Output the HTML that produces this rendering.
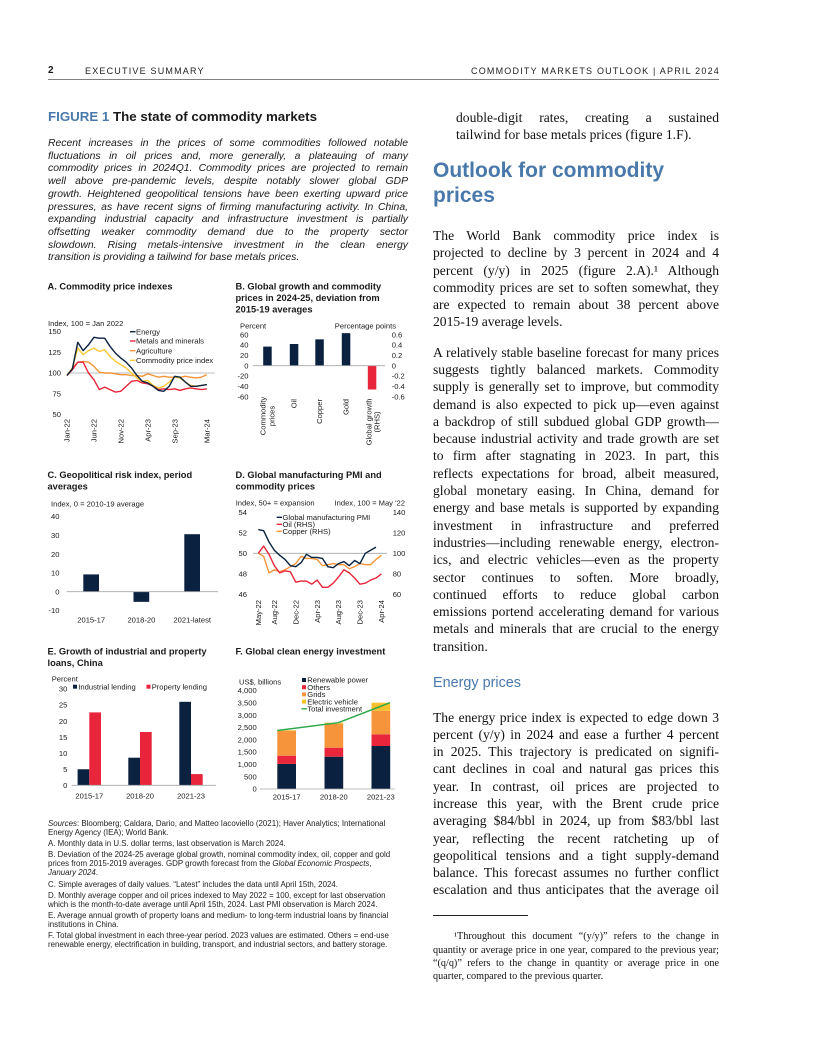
<!DOCTYPE html>
<html><head><meta charset="utf-8">
<style>
*{margin:0;padding:0;box-sizing:border-box}
html,body{width:816px;height:1056px;background:#fff;overflow:hidden}
body{position:relative;font-family:"Liberation Sans",Arial,sans-serif;color:#1a1a1a}
.abs{position:absolute}
.j{text-align:justify;text-align-last:justify}
.l{text-align:left;text-align-last:left}
.rc{position:absolute;left:433px;width:286px;font-family:"Liberation Serif","Times New Roman",serif;font-size:13.6px;line-height:17.3px;color:#111}
.rc div{white-space:normal}
.cap{font-size:9px;letter-spacing:1.2px;color:#222;line-height:11px}
.it{position:absolute;left:48px;top:138px;width:360px;font-size:10.4px;line-height:12.7px;font-style:italic;color:#1a1a1a}
.src{position:absolute;left:48px;top:819px;width:370px;font-size:7.9px;line-height:9px;color:#222;white-space:nowrap}
.src p{margin-top:2.2px}
.src p:first-child{margin-top:0}
.fn{position:absolute;left:433px;top:929.4px;width:286px;font-family:"Liberation Serif","Times New Roman",serif;font-size:10.2px;line-height:13.3px;color:#111}
svg text{font-family:"Liberation Sans",Arial,sans-serif;fill:#1a1a1a}
.t{font-size:9.3px;font-weight:bold}
.a{font-size:7.6px}
</style></head>
<body>

<!-- Header -->
<div class="abs" style="left:48px;top:65px;font-size:10px;font-weight:bold;line-height:12px">2</div>
<div class="abs cap" style="left:85px;top:65.5px">EXECUTIVE SUMMARY</div>
<div class="abs cap" style="left:400px;width:320px;top:65.5px;text-align:right">COMMODITY MARKETS OUTLOOK | APRIL 2024</div>
<div class="abs" style="left:48px;top:79.2px;width:671px;height:0.8px;background:#808080"></div>

<!-- Figure title -->
<div class="abs" style="left:48px;top:108.9px;font-size:13.3px;font-weight:bold;line-height:16px;white-space:nowrap"><span style="color:#4978ab">FIGURE 1</span> The state of commodity markets</div>

<div class="it">
<div class="j">Recent increases in the prices of some commodities followed notable</div>
<div class="j">fluctuations in oil prices and, more generally, a plateauing of many</div>
<div class="j">commodity prices in 2024Q1. Commodity prices are projected to remain</div>
<div class="j">well above pre-pandemic levels, despite notably slower global GDP</div>
<div class="j">growth. Heightened geopolitical tensions have been exerting upward price</div>
<div class="j">pressures, as have recent signs of firming manufacturing activity. In China,</div>
<div class="j">expanding industrial capacity and infrastructure investment is partially</div>
<div class="j">offsetting weaker commodity demand due to the property sector</div>
<div class="j">slowdown. Rising metals-intensive investment in the clean energy</div>
<div class="l">transition is providing a tailwind for base metals prices.</div>
</div>

<svg class="abs" style="left:0;top:0" width="816" height="1056" viewBox="0 0 816 1056">
<!-- ===== Panel A ===== -->
<text x="47.5" y="289.7" class="t">A. Commodity price indexes</text>
<text x="48" y="326" class="a">Index, 100 = Jan 2022</text>
<g class="a" text-anchor="end">
<text x="61" y="334.2" class="a">150</text>
<text x="61" y="355" class="a">125</text>
<text x="61" y="375.7" class="a">100</text>
<text x="61" y="396.4" class="a">75</text>
<text x="61" y="417.2" class="a">50</text>
</g>
<line x1="67" y1="373" x2="215" y2="373" stroke="#a6a6a6" stroke-width="0.8"/>
<g transform="translate(67,456) scale(5.38,-0.83)" fill="none" stroke-linejoin="round">
<polyline vector-effect="non-scaling-stroke" stroke="#f5943a" stroke-width="1.4" points="0,97 1,106 2,113 3,114 4,113 5,108 6,101 7,100 8,100 9,99 10,98 11,98 12,97 13,97 14,96 15,99 16,97 17,95 18,96 19,95 20,95 21,95 22,96 23,95 24,94 25,95 26,98"/>
<polyline vector-effect="non-scaling-stroke" stroke="#f9c933" stroke-width="1.4" points="0,97 1,106 2,130 3,122 4,127 5,130 6,126 7,128 8,120 9,114 10,110 11,106 12,100 13,94 14,90 15,91 16,85 17,82 18,84 19,89 20,95 21,94 22,89 23,85 24,84 25,85 26,86"/>
<polyline vector-effect="non-scaling-stroke" stroke="#e8253a" stroke-width="1.4" points="0,97 1,104 2,113 3,113 4,100 5,92 6,80 7,83 8,80 9,77 10,78 11,84 12,90 13,91 14,88 15,87 16,84 17,80 18,81 19,80 20,81 21,79 22,81 23,82 24,81 25,80 26,81"/>
<polyline vector-effect="non-scaling-stroke" stroke="#0a2240" stroke-width="1.4" points="0,97 1,105 2,137 3,127 4,134 5,143 6,142 7,142 8,132 9,124 10,118 11,113 12,106 13,97 14,90 15,88 16,84 17,79 18,78 19,84 20,96 21,95 22,89 23,84 24,84 25,85 26,86"/>
</g>
<line x1="130" y1="331.7" x2="135.5" y2="331.7" stroke="#0a2240" stroke-width="1.4"/>
<line x1="130" y1="341" x2="135.5" y2="341" stroke="#e8253a" stroke-width="1.4"/>
<line x1="130" y1="350.7" x2="135.5" y2="350.7" stroke="#f5943a" stroke-width="1.4"/>
<line x1="130" y1="360.3" x2="135.5" y2="360.3" stroke="#f9c933" stroke-width="1.4"/>
<text x="136" y="334.4" class="a">Energy</text>
<text x="136" y="343.7" class="a">Metals and minerals</text>
<text x="136" y="353.4" class="a">Agriculture</text>
<text x="136" y="363" class="a">Commodity price index</text>
<g text-anchor="end">
<text class="a" transform="translate(69.7,419) rotate(-90)">Jan-22</text>
<text class="a" transform="translate(96.6,419) rotate(-90)">Jun-22</text>
<text class="a" transform="translate(123.5,419) rotate(-90)">Nov-22</text>
<text class="a" transform="translate(150.4,419) rotate(-90)">Apr-23</text>
<text class="a" transform="translate(177.3,419) rotate(-90)">Sep-23</text>
<text class="a" transform="translate(209.6,419) rotate(-90)">Mar-24</text>
</g>

<!-- ===== Panel B ===== -->
<text x="235.5" y="289.7" class="t">B. Global growth and commodity</text>
<text x="235.5" y="301.2" class="t">prices in 2024-25, deviation from</text>
<text x="235.5" y="312.7" class="t">2015-19 averages</text>
<text x="240" y="328.4" class="a">Percent</text>
<text x="396" y="328.4" class="a" text-anchor="end">Percentage points</text>
<g text-anchor="end">
<text x="248.5" y="337.4" class="a">60</text>
<text x="248.5" y="347.7" class="a">40</text>
<text x="248.5" y="358.1" class="a">20</text>
<text x="248.5" y="368.4" class="a">0</text>
<text x="248.5" y="378.7" class="a">-20</text>
<text x="248.5" y="389.1" class="a">-40</text>
<text x="248.5" y="399.4" class="a">-60</text>
</g>
<text x="391.7" y="337.4" class="a">0.6</text>
<text x="391.7" y="347.7" class="a">0.4</text>
<text x="391.7" y="358.1" class="a">0.2</text>
<text x="391.7" y="368.4" class="a">0</text>
<text x="391.7" y="378.7" class="a">-0.2</text>
<text x="391.7" y="389.1" class="a">-0.4</text>
<text x="391.7" y="399.4" class="a">-0.6</text>
<rect x="263.2" y="346.6" width="8.5" height="19.1" fill="#0a2240"/>
<rect x="289.8" y="344" width="8.5" height="21.7" fill="#0a2240"/>
<rect x="315.3" y="339.35" width="8.5" height="26.35" fill="#0a2240"/>
<rect x="341.8" y="333.15" width="8.5" height="32.55" fill="#0a2240"/>
<rect x="367.8" y="365.7" width="8.5" height="23.8" fill="#e8253a"/>
<line x1="253" y1="365.7" x2="385" y2="365.7" stroke="#a6a6a6" stroke-width="0.8"/>
<text class="a" text-anchor="middle" transform="translate(265.4,416) rotate(-90)">Commodity</text>
<text class="a" text-anchor="middle" transform="translate(274.4,416) rotate(-90)">prices</text>
<text class="a" text-anchor="end" transform="translate(296.7,399) rotate(-90)">Oil</text>
<text class="a" text-anchor="end" transform="translate(322.2,399) rotate(-90)">Copper</text>
<text class="a" text-anchor="end" transform="translate(348.7,399) rotate(-90)">Gold</text>
<text class="a" text-anchor="middle" transform="translate(371.7,422) rotate(-90)">Global growth</text>
<text class="a" text-anchor="middle" transform="translate(379.7,422) rotate(-90)">(RHS)</text>

<!-- ===== Panel C ===== -->
<text x="47.5" y="477.8" class="t">C. Geopolitical risk index, period</text>
<text x="47.5" y="489.3" class="t">averages</text>
<text x="51" y="506.7" class="a">Index, 0 = 2010-19 average</text>
<g text-anchor="end">
<text x="59.5" y="519.2" class="a">40</text>
<text x="59.5" y="538" class="a">30</text>
<text x="59.5" y="556.8" class="a">20</text>
<text x="59.5" y="575.6" class="a">10</text>
<text x="59.5" y="594.4" class="a">0</text>
<text x="59.5" y="613.2" class="a">-10</text>
</g>
<rect x="83.3" y="574.4" width="15.7" height="17.3" fill="#0a2240"/>
<rect x="133.5" y="591.7" width="15.7" height="10.15" fill="#0a2240"/>
<rect x="184.3" y="534.2" width="15.7" height="57.5" fill="#0a2240"/>
<line x1="66.7" y1="591.7" x2="218" y2="591.7" stroke="#a6a6a6" stroke-width="0.8"/>
<g text-anchor="middle">
<text x="91.2" y="622.5" class="a">2015-17</text>
<text x="141.4" y="622.5" class="a">2018-20</text>
<text x="192.2" y="622.5" class="a">2021-latest</text>
</g>

<!-- ===== Panel D ===== -->
<text x="235.5" y="477.8" class="t">D. Global manufacturing PMI and</text>
<text x="235.5" y="489.3" class="t">commodity prices</text>
<text x="235.7" y="505.4" class="a">Index, 50+ = expansion</text>
<text x="405" y="505.4" class="a" text-anchor="end">Index, 100 = May '22</text>
<g text-anchor="end">
<text x="247" y="514.8" class="a">54</text>
<text x="247" y="535.4" class="a">52</text>
<text x="247" y="556" class="a">50</text>
<text x="247" y="576.6" class="a">48</text>
<text x="247" y="597.2" class="a">46</text>
</g>
<text x="392.7" y="514.8" class="a">140</text>
<text x="392.7" y="535.4" class="a">120</text>
<text x="392.7" y="556" class="a">100</text>
<text x="392.7" y="576.6" class="a">80</text>
<text x="392.7" y="597.2" class="a">60</text>
<line x1="253" y1="553.3" x2="387" y2="553.3" stroke="#a6a6a6" stroke-width="0.8"/>
<g transform="translate(258.3,656.3) scale(5.35,-1.03)" fill="none" stroke-linejoin="round">
<polyline vector-effect="non-scaling-stroke" stroke="#f5943a" stroke-width="1.4" points="0,100 1,97 2,81 3,84 4,82 5,84 6,87 7,90 8,97 9,95 10,95 11,94 12,88 13,89 14,90 15,89 16,89 17,85 18,87 19,90 20,89 21,89 22,94 23,98"/>
<polyline vector-effect="non-scaling-stroke" stroke="#e8253a" stroke-width="1.4" points="0,100 1,107 2,99 3,88 4,81 5,83 6,82 7,72 8,73 9,73 10,70 11,74 12,67 13,67 14,71 15,77 16,84 17,81 18,76 19,70 20,71 21,74 22,76 23,80"/>
</g>
<g transform="translate(258.3,1068.3) scale(5.35,-10.3)" fill="none" stroke-linejoin="round">
<polyline vector-effect="non-scaling-stroke" stroke="#0a2240" stroke-width="1.4" points="0,52.3 1,52.2 2,51.1 3,50.3 4,49.8 5,49.4 6,48.8 7,48.7 8,49.1 9,49.9 10,49.6 11,49.6 12,49.5 13,48.7 14,48.6 15,49.0 16,49.2 17,48.8 18,49.3 19,49.0 20,50.0 21,50.3 22,50.6"/>
</g>
<line x1="276.7" y1="517.3" x2="282" y2="517.3" stroke="#0a2240" stroke-width="1.4"/>
<line x1="276.7" y1="524.3" x2="282" y2="524.3" stroke="#e8253a" stroke-width="1.4"/>
<line x1="276.7" y1="531.3" x2="282" y2="531.3" stroke="#f5943a" stroke-width="1.4"/>
<text x="282.5" y="520" class="a">Global manufacturing PMI</text>
<text x="282.5" y="527" class="a">Oil (RHS)</text>
<text x="282.5" y="534" class="a">Copper (RHS)</text>
<g text-anchor="end">
<text class="a" transform="translate(261,600) rotate(-90)">May-22</text>
<text class="a" transform="translate(277,600) rotate(-90)">Aug-22</text>
<text class="a" transform="translate(298.4,600) rotate(-90)">Dec-22</text>
<text class="a" transform="translate(319.8,600) rotate(-90)">Apr-23</text>
<text class="a" transform="translate(341.2,600) rotate(-90)">Aug-23</text>
<text class="a" transform="translate(362.6,600) rotate(-90)">Dec-23</text>
<text class="a" transform="translate(384,600) rotate(-90)">Apr-24</text>
</g>

<!-- ===== Panel E ===== -->
<text x="47.5" y="654.7" class="t">E. Growth of industrial and property</text>
<text x="47.5" y="666.2" class="t">loans, China</text>
<text x="51.7" y="681.7" class="a">Percent</text>
<g text-anchor="end">
<text x="67.3" y="691.7" class="a">30</text>
<text x="67.3" y="707.7" class="a">25</text>
<text x="67.3" y="723.8" class="a">20</text>
<text x="67.3" y="739.8" class="a">15</text>
<text x="67.3" y="755.9" class="a">10</text>
<text x="67.3" y="771.9" class="a">5</text>
<text x="67.3" y="788" class="a">0</text>
</g>
<rect x="73" y="684.7" width="4" height="4" fill="#0a2240"/>
<text x="78.3" y="689.4" class="a">Industrial lending</text>
<rect x="146.5" y="684.7" width="4" height="4" fill="#e8253a"/>
<text x="151.7" y="689.4" class="a">Property lending</text>
<rect x="77.6" y="769.25" width="11.7" height="16.05" fill="#0a2240"/>
<rect x="89.3" y="712.4" width="11.7" height="72.9" fill="#e8253a"/>
<rect x="128.3" y="757.7" width="11.7" height="27.6" fill="#0a2240"/>
<rect x="140" y="732" width="11.7" height="53.3" fill="#e8253a"/>
<rect x="179.3" y="701.8" width="11.7" height="83.5" fill="#0a2240"/>
<rect x="191" y="774.1" width="11.7" height="11.2" fill="#e8253a"/>
<line x1="71.7" y1="785.3" x2="216" y2="785.3" stroke="#a6a6a6" stroke-width="0.8"/>
<g text-anchor="middle">
<text x="89.3" y="798.4" class="a">2015-17</text>
<text x="140" y="798.4" class="a">2018-20</text>
<text x="191" y="798.4" class="a">2021-23</text>
</g>

<!-- ===== Panel F ===== -->
<text x="235.5" y="654.7" class="t">F. Global clean energy investment</text>
<text x="239" y="684.4" class="a">US$, billions</text>
<g text-anchor="end">
<text x="256.7" y="693.1" class="a">4,000</text>
<text x="256.7" y="705.4" class="a">3,500</text>
<text x="256.7" y="717.8" class="a">3,000</text>
<text x="256.7" y="730.1" class="a">2,500</text>
<text x="256.7" y="742.4" class="a">2,000</text>
<text x="256.7" y="754.7" class="a">1,500</text>
<text x="256.7" y="767" class="a">1,000</text>
<text x="256.7" y="779.4" class="a">500</text>
<text x="256.7" y="791.7" class="a">0</text>
</g>
<rect x="277.3" y="763.9" width="18.7" height="25.1" fill="#0a2240"/>
<rect x="277.3" y="755.7" width="18.7" height="8.2" fill="#e8253a"/>
<rect x="277.3" y="730.7" width="18.7" height="25" fill="#f5943a"/>
<rect x="277.3" y="730.2" width="18.7" height="0.5" fill="#fcc02c"/>
<rect x="324.5" y="756.7" width="18.7" height="32.3" fill="#0a2240"/>
<rect x="324.5" y="747.7" width="18.7" height="9" fill="#e8253a"/>
<rect x="324.5" y="723.7" width="18.7" height="24" fill="#f5943a"/>
<rect x="324.5" y="722.7" width="18.7" height="1" fill="#fcc02c"/>
<rect x="371.5" y="746" width="18.7" height="43" fill="#0a2240"/>
<rect x="371.5" y="734.3" width="18.7" height="11.7" fill="#e8253a"/>
<rect x="371.5" y="710.7" width="18.7" height="23.6" fill="#f5943a"/>
<rect x="371.5" y="702.7" width="18.7" height="8" fill="#fcc02c"/>
<line x1="260" y1="789" x2="395" y2="789" stroke="#a6a6a6" stroke-width="0.8"/>
<polyline points="277.3,730.5 338.3,722.7 390,702.7" fill="none" stroke="#2ea84a" stroke-width="1.5"/>
<rect x="302" y="678" width="4" height="4" fill="#0a2240"/>
<rect x="302" y="685.2" width="4" height="4" fill="#e8253a"/>
<rect x="302" y="692.4" width="4" height="4" fill="#f5943a"/>
<rect x="302" y="699.6" width="4" height="4" fill="#fcc02c"/>
<line x1="301.5" y1="708.8" x2="306.8" y2="708.8" stroke="#2ea84a" stroke-width="1.4"/>
<text x="307.3" y="682.7" class="a">Renewable power</text>
<text x="307.3" y="689.9" class="a">Others</text>
<text x="307.3" y="697.1" class="a">Grids</text>
<text x="307.3" y="704.3" class="a">Electric vehicle</text>
<text x="307.3" y="711.5" class="a">Total investment</text>
<g text-anchor="middle">
<text x="286.7" y="799.4" class="a">2015-17</text>
<text x="333.8" y="799.4" class="a">2018-20</text>
<text x="380.8" y="799.4" class="a">2021-23</text>
</g>
</svg>

<!-- Sources -->
<div class="src">
<p><i>Sources</i>: Bloomberg; Caldara, Dario, and Matteo Iacoviello (2021); Haver Analytics; International<br>Energy Agency (IEA); World Bank.</p>
<p>A. Monthly data in U.S. dollar terms, last observation is March 2024.</p>
<p>B. Deviation of the 2024-25 average global growth, nominal commodity index, oil, copper and gold<br>prices from 2015-2019 averages. GDP growth forecast from the <i>Global Economic Prospects</i>,<br><i>January 2024</i>.</p>
<p>C. Simple averages of daily values. “Latest” includes the data until April 15th, 2024.</p>
<p>D. Monthly average copper and oil prices indexed to May 2022 = 100, except for last observation<br>which is the month-to-date average until April 15th, 2024. Last PMI observation is March 2024.</p>
<p>E. Average annual growth of property loans and medium- to long-term industrial loans by financial<br>institutions in China.</p>
<p>F. Total global investment in each three-year period. 2023 values are estimated. Others = end-use<br>renewable energy, electrification in building, transport, and industrial sectors, and battery storage.</p>
</div>

<!-- Right column -->
<div class="rc" style="left:456px;width:263px;top:109px">
<div class="j">double-digit rates, creating a sustained</div>
<div class="l">tailwind for base metals prices (figure 1.F).</div>
</div>

<div class="abs" style="left:433px;top:157.9px;font-size:21px;font-weight:bold;line-height:25px;color:#4978ab;white-space:nowrap">Outlook for commodity<br>prices</div>

<div class="rc" style="top:227px">
<div class="j">The World Bank commodity price index is</div>
<div class="j">projected to decline by 3 percent in 2024 and 4</div>
<div class="j">percent (y/y) in 2025 (figure 2.A).¹ Although</div>
<div class="j">commodity prices are set to soften somewhat, they</div>
<div class="j">are expected to remain about 38 percent above</div>
<div class="l">2015-19 average levels.</div>
</div>

<div class="rc" style="top:343.7px">
<div class="j">A relatively stable baseline forecast for many prices</div>
<div class="j">suggests tightly balanced markets. Commodity</div>
<div class="j">supply is generally set to improve, but commodity</div>
<div class="j">demand is also expected to pick up—even against</div>
<div class="j">a backdrop of still subdued global GDP growth—</div>
<div class="j">because industrial activity and trade growth are set</div>
<div class="j">to firm after stagnating in 2023. In part, this</div>
<div class="j">reflects expectations for broad, albeit measured,</div>
<div class="j">global monetary easing. In China, demand for</div>
<div class="j">energy and base metals is supported by expanding</div>
<div class="j">investment in infrastructure and preferred</div>
<div class="j">industries—including renewable energy, electron-</div>
<div class="j">ics, and electric vehicles—even as the property</div>
<div class="j">sector continues to soften. More broadly,</div>
<div class="j">continued efforts to reduce global carbon</div>
<div class="j">emissions portend accelerating demand for various</div>
<div class="j">metals and minerals that are crucial to the energy</div>
<div class="l">transition.</div>
</div>

<div class="abs" style="left:433px;top:674.5px;font-size:14.4px;line-height:17px;color:#4978ab;white-space:nowrap">Energy prices</div>

<div class="rc" style="top:708.5px">
<div class="j">The energy price index is expected to edge down 3</div>
<div class="j">percent (y/y) in 2024 and ease a further 4 percent</div>
<div class="j">in 2025. This trajectory is predicated on signifi-</div>
<div class="j">cant declines in coal and natural gas prices this</div>
<div class="j">year. In contrast, oil prices are projected to</div>
<div class="j">increase this year, with the Brent crude price</div>
<div class="j">averaging $84/bbl in 2024, up from $83/bbl last</div>
<div class="j">year, reflecting the recent ratcheting up of</div>
<div class="j">geopolitical tensions and a tight supply-demand</div>
<div class="j">balance. This forecast assumes no further conflict</div>
<div class="j">escalation and thus anticipates that the average oil</div>
</div>

<div class="abs" style="left:433px;top:915px;width:95px;height:0.8px;background:#222"></div>
<div class="fn" style="top:930.4px">
<div class="j" style="padding-left:21px">¹Throughout this document “(y/y)” refers to the change in</div>
<div class="j">quantity or average price in one year, compared to the previous year;</div>
<div class="j">“(q/q)” refers to the change in quantity or average price in one</div>
<div class="l">quarter, compared to the previous quarter.</div>
</div>

</body></html>
